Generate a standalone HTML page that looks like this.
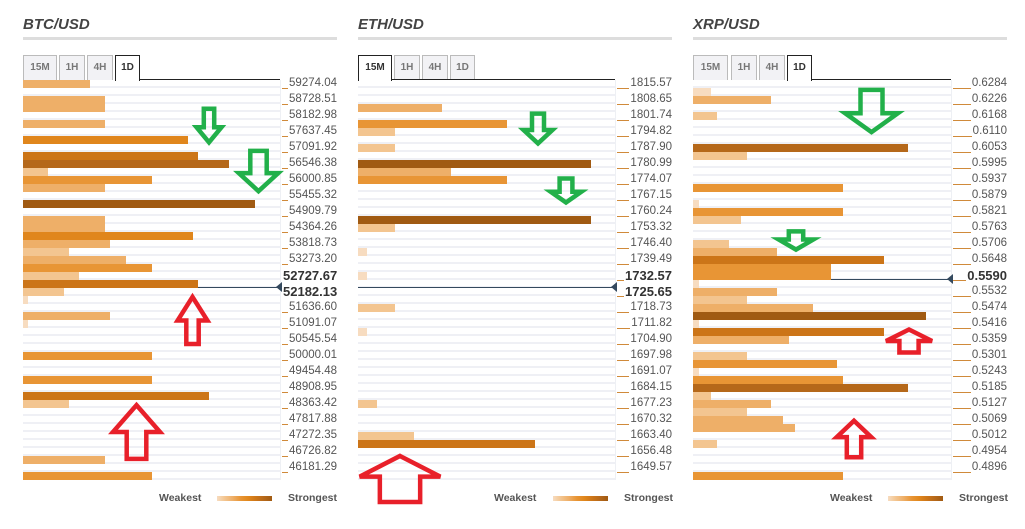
<!DOCTYPE html>
<html><head><meta charset="utf-8"><style>
*{margin:0;padding:0;box-sizing:border-box}
body{width:1025px;height:529px;background:#fff;position:relative;overflow:hidden;font-family:"Liberation Sans",sans-serif}
.t{position:absolute;top:16px;font-size:15px;font-weight:bold;font-style:italic;color:#444}
.ul{position:absolute;top:37px;height:3px;background:#ddd;width:314px}
.tab{position:absolute;top:55px;height:25px;background:#f2f2f5;border:1px solid #bbb;border-bottom:none;font-size:10px;font-weight:bold;color:#777;text-align:center;line-height:24px}
.tab.a{background:#fff;border:1px solid #222;border-bottom:none;color:#333;height:26px;z-index:2}
.bl{position:absolute;top:79px;height:1px;background:#222}
.g{position:absolute;top:80px;height:400px;background:repeating-linear-gradient(to bottom,#fff 0 6px,#eff0f5 6px 8px);border-right:1px solid #eef0f4}
.b{position:absolute;left:0;height:8px}
.L0{background:#f7dcc0}.L1{background:#f3c590}.L2{background:#eeaf68}.L3{background:#e89535}.L4{background:#e0861c}.L5{background:#cc7518}.L6{background:#b5681a}.L7{background:#a05a12}
.lb{position:absolute;height:16px;display:flex;align-items:center;font-size:11.5px;color:#555}
.lb i{flex:1;height:1px;background:#d08a3a;align-self:flex-end;margin-bottom:2px;margin-right:1px}
.lb.k{font-size:13px;font-weight:bold;color:#333}
.pl{position:absolute;height:1px;background:#34495e}
.tri{position:absolute;width:0;height:0;border-top:5px solid transparent;border-bottom:5px solid transparent;border-right:6px solid #34495e}
.lg{position:absolute;top:492px;font-size:10.5px;font-weight:bold;color:#555}
.gr{position:absolute;top:496px;width:55px;height:5px;background:linear-gradient(to right,#f7dcc0,#f3c590,#eeaf68,#e89535,#e0861c,#cc7518,#b5681a,#a05a12)}
svg.ar{position:absolute;left:0;top:0;overflow:visible}
</style></head><body>

<!-- BTC -->
<div class="t" style="left:23px">BTC/USD</div><div class="ul" style="left:23px"></div>
<div class="tab" style="left:23px;width:34px">15M</div><div class="tab" style="left:59px;width:26px">1H</div><div class="tab" style="left:87px;width:26px">4H</div><div class="tab a" style="left:115px;width:25px">1D</div>
<div class="bl" style="left:140px;width:140px"></div>
<div class="g" style="left:23px;width:258px">
<div class="b L2" style="top:0;width:67px"></div>
<div class="b L2" style="top:16px;height:16px;width:82px"></div>
<div class="b L2" style="top:40px;width:82px"></div>
<div class="b L4" style="top:56px;width:165px"></div>
<div class="b L5" style="top:72px;width:175px"></div>
<div class="b L6" style="top:80px;width:206px"></div>
<div class="b L1" style="top:88px;width:25px"></div>
<div class="b L3" style="top:96px;width:129px"></div>
<div class="b L2" style="top:104px;width:82px"></div>
<div class="b L7" style="top:120px;width:232px"></div>
<div class="b L2" style="top:136px;height:16px;width:82px"></div>
<div class="b L4" style="top:152px;width:170px"></div>
<div class="b L2" style="top:160px;width:87px"></div>
<div class="b L1" style="top:168px;width:46px"></div>
<div class="b L2" style="top:176px;width:103px"></div>
<div class="b L3" style="top:184px;width:129px"></div>
<div class="b L1" style="top:192px;width:56px"></div>
<div class="b L5" style="top:200px;width:175px"></div>
<div class="b L1" style="top:208px;width:41px"></div>
<div class="b L0" style="top:216px;width:5px"></div>
<div class="b L2" style="top:232px;width:87px"></div>
<div class="b L0" style="top:240px;width:5px"></div>
<div class="b L3" style="top:272px;width:129px"></div>
<div class="b L3" style="top:296px;width:129px"></div>
<div class="b L5" style="top:312px;width:186px"></div>
<div class="b L1" style="top:320px;width:46px"></div>
<div class="b L2" style="top:376px;width:82px"></div>
<div class="b L3" style="top:392px;width:129px"></div>
</div>
<div class="pl" style="left:198px;top:287px;width:82px"></div><div class="tri" style="left:276px;top:282px"></div>
<div class="lb" style="left:282px;width:55px;top:75px"><i></i>59274.04</div>
<div class="lb" style="left:282px;width:55px;top:91px"><i></i>58728.51</div>
<div class="lb" style="left:282px;width:55px;top:107px"><i></i>58182.98</div>
<div class="lb" style="left:282px;width:55px;top:123px"><i></i>57637.45</div>
<div class="lb" style="left:282px;width:55px;top:139px"><i></i>57091.92</div>
<div class="lb" style="left:282px;width:55px;top:155px"><i></i>56546.38</div>
<div class="lb" style="left:282px;width:55px;top:171px"><i></i>56000.85</div>
<div class="lb" style="left:282px;width:55px;top:187px"><i></i>55455.32</div>
<div class="lb" style="left:282px;width:55px;top:203px"><i></i>54909.79</div>
<div class="lb" style="left:282px;width:55px;top:219px"><i></i>54364.26</div>
<div class="lb" style="left:282px;width:55px;top:235px"><i></i>53818.73</div>
<div class="lb" style="left:282px;width:55px;top:251px"><i></i>53273.20</div>
<div class="lb k" style="left:282px;width:55px;top:267px"><i></i>52727.67</div>
<div class="lb k" style="left:282px;width:55px;top:283px"><i></i>52182.13</div>
<div class="lb" style="left:282px;width:55px;top:299px"><i></i>51636.60</div>
<div class="lb" style="left:282px;width:55px;top:315px"><i></i>51091.07</div>
<div class="lb" style="left:282px;width:55px;top:331px"><i></i>50545.54</div>
<div class="lb" style="left:282px;width:55px;top:347px"><i></i>50000.01</div>
<div class="lb" style="left:282px;width:55px;top:363px"><i></i>49454.48</div>
<div class="lb" style="left:282px;width:55px;top:379px"><i></i>48908.95</div>
<div class="lb" style="left:282px;width:55px;top:395px"><i></i>48363.42</div>
<div class="lb" style="left:282px;width:55px;top:411px"><i></i>47817.88</div>
<div class="lb" style="left:282px;width:55px;top:427px"><i></i>47272.35</div>
<div class="lb" style="left:282px;width:55px;top:443px"><i></i>46726.82</div>
<div class="lb" style="left:282px;width:55px;top:459px"><i></i>46181.29</div>
<div class="lg" style="left:159px">Weakest</div><div class="gr" style="left:217px"></div><div class="lg" style="left:288px">Strongest</div>

<!-- ETH -->
<div class="t" style="left:358px">ETH/USD</div><div class="ul" style="left:358px"></div>
<div class="tab a" style="left:358px;width:34px">15M</div><div class="tab" style="left:394px;width:26px">1H</div><div class="tab" style="left:422px;width:26px">4H</div><div class="tab" style="left:450px;width:25px">1D</div>
<div class="bl" style="left:392px;width:223px"></div>
<div class="g" style="left:358px;width:258px">
<div class="b L2" style="top:24px;width:84px"></div>
<div class="b L3" style="top:40px;width:149px"></div>
<div class="b L1" style="top:48px;width:37px"></div>
<div class="b L1" style="top:64px;width:37px"></div>
<div class="b L7" style="top:80px;width:233px"></div>
<div class="b L2" style="top:88px;width:93px"></div>
<div class="b L3" style="top:96px;width:149px"></div>
<div class="b L7" style="top:136px;width:233px"></div>
<div class="b L1" style="top:144px;width:37px"></div>
<div class="b L0" style="top:168px;width:9px"></div>
<div class="b L0" style="top:192px;width:9px"></div>
<div class="b L1" style="top:224px;width:37px"></div>
<div class="b L0" style="top:248px;width:9px"></div>
<div class="b L1" style="top:320px;width:19px"></div>
<div class="b L1" style="top:352px;width:56px"></div>
<div class="b L5" style="top:360px;width:177px"></div>
</div>
<div class="pl" style="left:358px;top:287px;width:257px"></div><div class="tri" style="left:611px;top:282px"></div>
<div class="lb" style="left:617px;width:55px;top:75px"><i></i>1815.57</div>
<div class="lb" style="left:617px;width:55px;top:91px"><i></i>1808.65</div>
<div class="lb" style="left:617px;width:55px;top:107px"><i></i>1801.74</div>
<div class="lb" style="left:617px;width:55px;top:123px"><i></i>1794.82</div>
<div class="lb" style="left:617px;width:55px;top:139px"><i></i>1787.90</div>
<div class="lb" style="left:617px;width:55px;top:155px"><i></i>1780.99</div>
<div class="lb" style="left:617px;width:55px;top:171px"><i></i>1774.07</div>
<div class="lb" style="left:617px;width:55px;top:187px"><i></i>1767.15</div>
<div class="lb" style="left:617px;width:55px;top:203px"><i></i>1760.24</div>
<div class="lb" style="left:617px;width:55px;top:219px"><i></i>1753.32</div>
<div class="lb" style="left:617px;width:55px;top:235px"><i></i>1746.40</div>
<div class="lb" style="left:617px;width:55px;top:251px"><i></i>1739.49</div>
<div class="lb k" style="left:617px;width:55px;top:267px"><i></i>1732.57</div>
<div class="lb k" style="left:617px;width:55px;top:283px"><i></i>1725.65</div>
<div class="lb" style="left:617px;width:55px;top:299px"><i></i>1718.73</div>
<div class="lb" style="left:617px;width:55px;top:315px"><i></i>1711.82</div>
<div class="lb" style="left:617px;width:55px;top:331px"><i></i>1704.90</div>
<div class="lb" style="left:617px;width:55px;top:347px"><i></i>1697.98</div>
<div class="lb" style="left:617px;width:55px;top:363px"><i></i>1691.07</div>
<div class="lb" style="left:617px;width:55px;top:379px"><i></i>1684.15</div>
<div class="lb" style="left:617px;width:55px;top:395px"><i></i>1677.23</div>
<div class="lb" style="left:617px;width:55px;top:411px"><i></i>1670.32</div>
<div class="lb" style="left:617px;width:55px;top:427px"><i></i>1663.40</div>
<div class="lb" style="left:617px;width:55px;top:443px"><i></i>1656.48</div>
<div class="lb" style="left:617px;width:55px;top:459px"><i></i>1649.57</div>
<div class="lg" style="left:494px">Weakest</div><div class="gr" style="left:553px"></div><div class="lg" style="left:624px">Strongest</div>

<!-- XRP -->
<div class="t" style="left:693px">XRP/USD</div><div class="ul" style="left:693px"></div>
<div class="tab" style="left:693px;width:35px">15M</div><div class="tab" style="left:731px;width:26px">1H</div><div class="tab" style="left:759px;width:26px">4H</div><div class="tab a" style="left:787px;width:25px">1D</div>
<div class="bl" style="left:812px;width:139px"></div>
<div class="g" style="left:693px;width:259px">
<div class="b L0" style="top:8px;width:18px"></div>
<div class="b L2" style="top:16px;width:78px"></div>
<div class="b L1" style="top:32px;width:24px"></div>
<div class="b L6" style="top:64px;width:215px"></div>
<div class="b L1" style="top:72px;width:54px"></div>
<div class="b L3" style="top:104px;width:150px"></div>
<div class="b L0" style="top:120px;width:6px"></div>
<div class="b L3" style="top:128px;width:150px"></div>
<div class="b L1" style="top:136px;width:48px"></div>
<div class="b L1" style="top:160px;width:36px"></div>
<div class="b L2" style="top:168px;width:84px"></div>
<div class="b L5" style="top:176px;width:191px"></div>
<div class="b L3" style="top:184px;height:16px;width:138px"></div>
<div class="b L0" style="top:200px;width:6px"></div>
<div class="b L2" style="top:208px;width:84px"></div>
<div class="b L1" style="top:216px;width:54px"></div>
<div class="b L2" style="top:224px;width:120px"></div>
<div class="b L7" style="top:232px;width:233px"></div>
<div class="b L0" style="top:240px;width:6px"></div>
<div class="b L5" style="top:248px;width:191px"></div>
<div class="b L2" style="top:256px;width:96px"></div>
<div class="b L1" style="top:272px;width:54px"></div>
<div class="b L3" style="top:280px;width:144px"></div>
<div class="b L0" style="top:288px;width:6px"></div>
<div class="b L3" style="top:296px;width:150px"></div>
<div class="b L6" style="top:304px;width:215px"></div>
<div class="b L1" style="top:312px;width:18px"></div>
<div class="b L2" style="top:320px;width:78px"></div>
<div class="b L1" style="top:328px;width:54px"></div>
<div class="b L2" style="top:336px;width:90px"></div>
<div class="b L2" style="top:344px;width:102px"></div>
<div class="b L1" style="top:360px;width:24px"></div>
<div class="b L3" style="top:392px;width:150px"></div>
</div>
<div class="pl" style="left:831px;top:279px;width:120px"></div><div class="tri" style="left:947px;top:274px"></div>
<div class="lb" style="left:953px;width:54px;top:75px"><i></i>0.6284</div>
<div class="lb" style="left:953px;width:54px;top:91px"><i></i>0.6226</div>
<div class="lb" style="left:953px;width:54px;top:107px"><i></i>0.6168</div>
<div class="lb" style="left:953px;width:54px;top:123px"><i></i>0.6110</div>
<div class="lb" style="left:953px;width:54px;top:139px"><i></i>0.6053</div>
<div class="lb" style="left:953px;width:54px;top:155px"><i></i>0.5995</div>
<div class="lb" style="left:953px;width:54px;top:171px"><i></i>0.5937</div>
<div class="lb" style="left:953px;width:54px;top:187px"><i></i>0.5879</div>
<div class="lb" style="left:953px;width:54px;top:203px"><i></i>0.5821</div>
<div class="lb" style="left:953px;width:54px;top:219px"><i></i>0.5763</div>
<div class="lb" style="left:953px;width:54px;top:235px"><i></i>0.5706</div>
<div class="lb" style="left:953px;width:54px;top:251px"><i></i>0.5648</div>
<div class="lb k" style="left:953px;width:54px;top:267px"><i></i>0.5590</div>
<div class="lb" style="left:953px;width:54px;top:283px"><i></i>0.5532</div>
<div class="lb" style="left:953px;width:54px;top:299px"><i></i>0.5474</div>
<div class="lb" style="left:953px;width:54px;top:315px"><i></i>0.5416</div>
<div class="lb" style="left:953px;width:54px;top:331px"><i></i>0.5359</div>
<div class="lb" style="left:953px;width:54px;top:347px"><i></i>0.5301</div>
<div class="lb" style="left:953px;width:54px;top:363px"><i></i>0.5243</div>
<div class="lb" style="left:953px;width:54px;top:379px"><i></i>0.5185</div>
<div class="lb" style="left:953px;width:54px;top:395px"><i></i>0.5127</div>
<div class="lb" style="left:953px;width:54px;top:411px"><i></i>0.5069</div>
<div class="lb" style="left:953px;width:54px;top:427px"><i></i>0.5012</div>
<div class="lb" style="left:953px;width:54px;top:443px"><i></i>0.4954</div>
<div class="lb" style="left:953px;width:54px;top:459px"><i></i>0.4896</div>
<div class="lg" style="left:830px">Weakest</div><div class="gr" style="left:888px"></div><div class="lg" style="left:959px">Strongest</div>

<!-- arrows -->
<svg class="ar" width="1025" height="529">
<g fill="none" stroke-width="4.5" stroke-linejoin="miter">
<svg x="196" y="108" width="26" height="35" viewBox="0 0 100 100" preserveAspectRatio="none" overflow="visible"><polygon vector-effect="non-scaling-stroke" stroke="#22b04a" points="30,2 70,2 70,55 98,55 50,98 2,55 30,55"/></svg>
<svg x="238" y="150" width="41" height="42" viewBox="0 0 100 100" preserveAspectRatio="none" overflow="visible"><polygon vector-effect="non-scaling-stroke" stroke="#22b04a" points="30,2 70,2 70,55 98,55 50,98 2,55 30,55"/></svg>
<svg x="523" y="113" width="30" height="31" viewBox="0 0 100 100" preserveAspectRatio="none" overflow="visible"><polygon vector-effect="non-scaling-stroke" stroke="#22b04a" points="30,2 70,2 70,55 98,55 50,98 2,55 30,55"/></svg>
<svg x="550" y="178" width="32" height="25" viewBox="0 0 100 100" preserveAspectRatio="none" overflow="visible"><polygon vector-effect="non-scaling-stroke" stroke="#22b04a" points="30,2 70,2 70,55 98,55 50,98 2,55 30,55"/></svg>
<svg x="844" y="89" width="55" height="44" viewBox="0 0 100 100" preserveAspectRatio="none" overflow="visible"><polygon vector-effect="non-scaling-stroke" stroke="#22b04a" points="30,2 70,2 70,55 98,55 50,98 2,55 30,55"/></svg>
<svg x="778" y="231" width="36" height="19" viewBox="0 0 100 100" preserveAspectRatio="none" overflow="visible"><polygon vector-effect="non-scaling-stroke" stroke="#22b04a" points="30,2 70,2 70,45 98,45 50,98 2,45 30,45"/></svg>
<svg x="177" y="296" width="31" height="49" viewBox="0 0 100 100" preserveAspectRatio="none" overflow="visible"><polygon vector-effect="non-scaling-stroke" stroke="#e8202a" points="50,2 98,50 70,50 70,98 30,98 30,50 2,50"/></svg>
<svg x="112" y="404" width="49" height="56" viewBox="0 0 100 100" preserveAspectRatio="none" overflow="visible"><polygon vector-effect="non-scaling-stroke" stroke="#e8202a" points="50,2 98,50 70,50 70,98 30,98 30,50 2,50"/></svg>
<svg x="358" y="455" width="84" height="48" viewBox="0 0 100 100" preserveAspectRatio="none" overflow="visible"><polygon vector-effect="non-scaling-stroke" stroke="#e8202a" points="50,2 98,45 74,45 74,98 26,98 26,45 2,45"/></svg>
<svg x="885" y="329" width="48" height="24" viewBox="0 0 100 100" preserveAspectRatio="none" overflow="visible"><polygon vector-effect="non-scaling-stroke" stroke="#e8202a" points="50,2 98,50 70,50 70,98 30,98 30,50 2,50"/></svg>
<svg x="836" y="420" width="36" height="38" viewBox="0 0 100 100" preserveAspectRatio="none" overflow="visible"><polygon vector-effect="non-scaling-stroke" stroke="#e8202a" points="50,2 98,45 70,45 70,98 30,98 30,45 2,45"/></svg>
</g></svg>
</body></html>
